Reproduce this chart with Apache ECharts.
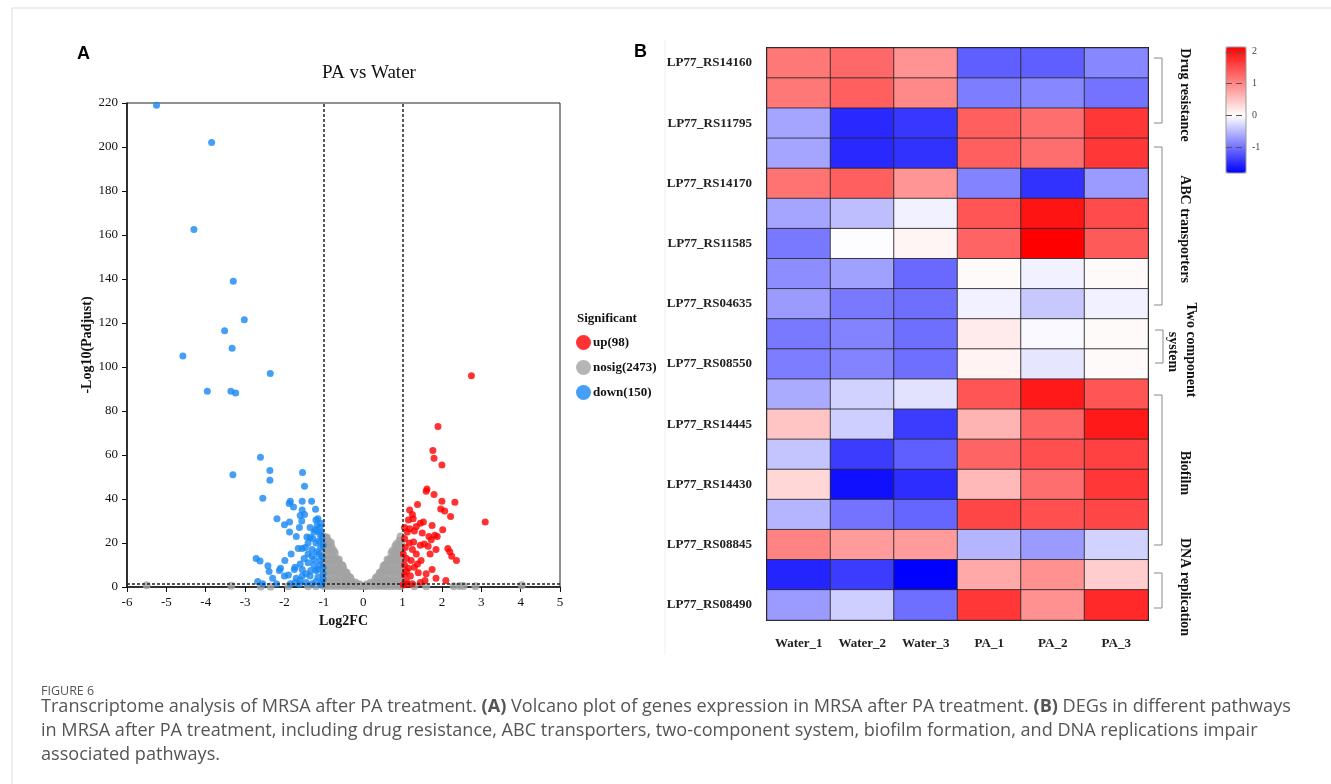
<!DOCTYPE html>
<html>
<head>
<meta charset="utf-8">
<script src="https://cdn.jsdelivr.net/npm/echarts@6/dist/echarts.min.js"></script>
<style>
  html, body { margin: 0; padding: 0; background: #fff; }
  #main { width: 1331px; height: 784px; }
</style>
</head>
<body>
<div id="main"></div>
<script>
// ---- panel A: volcano plot, [log2FC, -log10(padj)] ----
var upPoints = [
  [2.75, 96], [1.9, 73], [1.77, 62], [1.8, 58.5], [2.0, 55.5], [1.62, 44.5], [1.6, 43.5],
  [1.8, 42], [2.33, 38.5], [2.0, 39], [1.38, 37.5], [3.1, 29.5], [1.18, 35], [1.25, 33],
  [1.97, 35.5], [2.07, 34.5], [2.22, 32], [1.15, 30.5], [1.27, 31], [1.45, 29], [1.53, 29.5],
  [1.75, 28], [1.05, 27], [1.18, 26.5], [1.12, 25], [1.3, 25.5], [1.35, 27.5], [2.02, 26],
  [1.67, 23], [1.82, 23.5], [1.88, 23], [1.73, 21.5], [1.05, 22], [1.17, 20], [1.55, 19.5],
  [1.45, 19], [1.65, 18.5], [1.85, 17], [2.15, 17.5], [2.2, 16], [2.25, 14], [2.37, 12],
  [1.7, 15], [1.07, 18], [1.25, 17], [1.35, 15], [1.1, 13], [1.22, 12], [1.47, 12],
  [1.38, 10.5], [1.05, 10], [1.15, 8.5], [1.3, 9], [1.75, 8], [1.05, 5.5], [1.2, 5],
  [1.4, 6.5], [1.57, 3], [1.85, 4], [2.1, 3], [1.1, 2.5], [1.25, 1.5], [1.45, 2],
  [1.02, 1], [1.12, 1.2], [1.02, 15], [1.1, 7], [1.28, 20.5], [1.6, 6], [1.5, 24.5]
];
var downPoints = [
  [-5.25, 219], [-3.85, 202], [-4.3, 162.5], [-3.3, 139], [-3.02, 121.5], [-3.52, 116.5],
  [-3.33, 108.5], [-4.58, 105], [-2.36, 97], [-3.96, 89], [-3.36, 89], [-3.24, 88.2],
  [-2.61, 59], [-2.37, 53], [-2.37, 48.5], [-3.31, 51], [-1.54, 52], [-1.49, 45.8],
  [-2.55, 40.3], [-1.85, 39], [-1.88, 38], [-1.55, 39], [-1.31, 39], [-1.21, 35.3],
  [-1.77, 36.4], [-1.55, 35], [-1.49, 33], [-1.6, 32.5], [-1.56, 30], [-2.19, 31],
  [-1.87, 29.5], [-1.2, 30.5], [-1.17, 28], [-2.0, 28.3], [-1.87, 25], [-1.62, 27],
  [-1.7, 23], [-1.43, 22.7], [-1.35, 22.5], [-1.25, 25], [-1.1, 27], [-1.1, 24],
  [-1.2, 20], [-1.08, 18], [-1.3, 17], [-1.55, 17.5], [-1.65, 17.5], [-1.47, 18],
  [-1.83, 15], [-1.13, 15], [-1.25, 12.5], [-1.5, 13], [-1.6, 10.5], [-1.73, 9],
  [-1.99, 12], [-1.55, 8], [-1.4, 11], [-1.1, 10], [-1.2, 7.5], [-1.35, 5], [-1.15, 4.5],
  [-1.02, 6], [-1.05, 2], [-1.45, 2], [-1.55, 5], [-1.7, 4], [-2.0, 5], [-2.3, 4],
  [-2.39, 7], [-2.42, 9.7], [-2.1, 8.5], [-2.13, 7.5], [-2.62, 11.8], [-2.72, 13],
  [-2.68, 2.5], [-2.55, 1.5], [-2.2, 1.5], [-1.85, 1.5], [-1.73, 2], [-1.3, 1.5],
  [-1.05, 22], [-1.08, 25], [-1.02, 19], [-1.12, 21], [-1.18, 16], [-1.05, 14],
  [-1.1, 12], [-1.02, 9], [-1.15, 8], [-1.25, 10], [-1.3, 14], [-1.22, 26], [-1.15, 31],
  [-1.07, 29], [-1.02, 3.5], [-1.08, 1], [-1.2, 2.5], [-1.35, 27], [-1.4, 20], [-1.4, 15],
  [-1.28, 22], [-1.33, 7.5], [-1.45, 6], [-1.6, 3], [-1.62, 1.2], [-1.75, 8], [-1.9, 5.5]
];
var nosigPoints = [
  [-1.0, 0.5], [-1.0, 3], [-1.0, 5.5], [-1.0, 8], [-1.0, 10.5], [-1.0, 13], [-1.0, 15.5], [-1.0, 18], [-1.0, 20.5], [-1.0, 23],
  [-0.95, 2], [-0.95, 7], [-0.95, 12], [-0.95, 17], [-0.95, 22],
  [-0.9, 0.5], [-0.9, 3], [-0.9, 5.5], [-0.9, 8], [-0.9, 10.5], [-0.9, 13], [-0.9, 15.5], [-0.9, 18], [-0.9, 20.5], [-0.92, 22.5],
  [-0.85, 2], [-0.85, 7], [-0.85, 12], [-0.85, 17], [-0.85, 20.5],
  [-0.8, 0.5], [-0.8, 3], [-0.8, 5.5], [-0.8, 8], [-0.8, 10.5], [-0.8, 13], [-0.8, 15.5], [-0.8, 18], [-0.82, 20],
  [-0.75, 2], [-0.75, 7], [-0.75, 12], [-0.75, 16.5],
  [-0.7, 0.5], [-0.7, 3], [-0.7, 5.5], [-0.7, 8], [-0.7, 10.5], [-0.7, 13], [-0.72, 15.5],
  [-0.65, 2], [-0.65, 7], [-0.65, 12],
  [-0.6, 0.5], [-0.6, 3], [-0.6, 5.5], [-0.6, 8], [-0.6, 10.5], [-0.62, 12.5],
  [-0.55, 2], [-0.55, 7], [-0.55, 10],
  [-0.5, 0.5], [-0.5, 3], [-0.5, 5.5], [-0.5, 8], [-0.52, 9.5],
  [-0.45, 2], [-0.45, 6.5],
  [-0.4, 0.5], [-0.4, 3], [-0.4, 5], [-0.42, 6.5],
  [-0.35, 2], [-0.35, 4.5],
  [-0.3, 0.5], [-0.3, 2.5], [-0.32, 4],
  [-0.25, 1.5], [-0.2, 0.5], [-0.2, 2], [-0.15, 1], [-0.1, 0.5], [-0.1, 1.2], [-0.05, 0.6], [0, 0.5],
  [0.05, 0.6], [0.1, 0.5], [0.1, 1.2], [0.15, 1], [0.2, 0.5], [0.2, 2], [0.25, 1.5],
  [0.3, 0.5], [0.3, 2.5], [0.32, 4], [0.35, 2], [0.35, 4.5],
  [0.4, 0.5], [0.4, 3], [0.4, 5], [0.42, 6.5], [0.45, 2], [0.45, 6.5],
  [0.5, 0.5], [0.5, 3], [0.5, 5.5], [0.5, 8], [0.52, 9.5], [0.55, 2], [0.55, 7], [0.55, 10],
  [0.6, 0.5], [0.6, 3], [0.6, 5.5], [0.6, 8], [0.6, 10.5], [0.62, 12.5], [0.65, 2], [0.65, 7], [0.65, 12],
  [0.7, 0.5], [0.7, 3], [0.7, 5.5], [0.7, 8], [0.7, 10.5], [0.7, 13], [0.72, 15.5], [0.75, 2], [0.75, 7], [0.75, 12], [0.75, 16.5],
  [0.8, 0.5], [0.8, 3], [0.8, 5.5], [0.8, 8], [0.8, 10.5], [0.8, 13], [0.8, 15.5], [0.82, 18.5],
  [0.85, 2], [0.85, 7], [0.85, 12], [0.85, 17], [0.85, 19.5],
  [0.9, 0.5], [0.9, 3], [0.9, 5.5], [0.9, 8], [0.9, 10.5], [0.9, 13], [0.9, 15.5], [0.9, 18], [0.92, 21],
  [0.97, 0.5], [0.97, 3], [0.97, 5.5], [0.97, 8], [0.97, 10.5], [0.97, 13], [0.97, 15.5], [0.97, 18], [0.97, 20.5], [0.95, 23],
  [-5.5, 0.8], [-3.35, 0.6], [-2.6, 0.2], [-2.35, 0.2], [-1.9, 0.3], [-1.4, 0.3], [-1.2, 0.3],
  [1.3, 0.3], [1.6, 0.3], [2.3, 0.3], [2.45, 0.4], [2.55, 0.5], [2.85, 0.3], [4.03, 0.8]
];
var legendNames = ['up(98)', 'nosig(2473)', 'down(150)'];

// ---- panel B: heatmap, z-scores ----
var sampleNames = ['Water_1', 'Water_2', 'Water_3', 'PA_1', 'PA_2', 'PA_3'];
var rowLabels = [
  'LP77_RS14160', '', 'LP77_RS11795', '', 'LP77_RS14170', '', 'LP77_RS11585', '',
  'LP77_RS04635', '', 'LP77_RS08550', '', 'LP77_RS14445', '', 'LP77_RS14430', '',
  'LP77_RS08845', '', 'LP77_RS08490'
];
var heatValues = [
  [1.14, 1.27, 0.92, -1.13, -1.13, -0.85],
  [1.14, 1.35, 1.0, -0.92, -0.85, -0.99],
  [-0.64, -1.52, -1.41, 1.35, 1.22, 1.69],
  [-0.64, -1.52, -1.45, 1.35, 1.22, 1.69],
  [1.18, 1.35, 0.89, -0.88, -1.45, -0.71],
  [-0.64, -0.46, -0.1, 1.43, 1.98, 1.52],
  [-0.95, -0.02, 0.08, 1.31, 2.15, 1.39],
  [-0.81, -0.67, -1.06, 0.04, -0.1, 0.04],
  [-0.71, -0.95, -1.02, -0.1, -0.39, -0.1],
  [-0.95, -0.88, -1.02, 0.17, -0.05, 0.04],
  [-0.92, -0.88, -1.02, 0.1, -0.18, 0.04],
  [-0.6, -0.32, -0.21, 1.43, 1.94, 1.43],
  [0.5, -0.35, -1.38, 0.63, 1.31, 1.94],
  [-0.42, -1.38, -1.13, 1.31, 1.48, 1.6],
  [0.34, -1.69, -1.48, 0.59, 1.22, 1.69],
  [-0.53, -0.99, -1.09, 1.56, 1.48, 1.56],
  [1.05, 0.84, 0.84, -0.53, -0.71, -0.32],
  [-1.55, -1.38, -1.8, 0.72, 0.93, 0.42],
  [-0.71, -0.35, -1.02, 1.69, 0.93, 1.81]
];
var colorbarTicks = [-1, 0, 1, 2];
var pathwayGroups = [
  { name: 'Drug resistance', from: 58, to: 123, textY: 95 },
  { name: 'ABC transporters', from: 147, to: 305, textY: 229 },
  { name: 'Biofilm', from: 395, to: 545, textY: 473 },
  { name: 'DNA replication', from: 573, to: 608, textY: 587 }
];

var SERIF = '"Liberation Serif", "Times New Roman", serif';
var CAPTION = '18.1px "Open Sans", sans-serif';
var heatData = [];
heatValues.forEach(function (row, r) {
  row.forEach(function (v, c) { heatData.push([c, r, v]); });
});
var everyOther = function (i) { return i % 2 === 0; };

var graphics = [
  { type: 'rect', shape: { x: 12, y: 8, width: 1340, height: 800 }, style: { fill: 'none', stroke: '#dcdcdc', lineWidth: 1 }, silent: true },
  { type: 'line', shape: { x1: 665, y1: 40, x2: 665, y2: 655 }, style: { stroke: '#f0f0f0', lineWidth: 1 }, silent: true },
  { type: 'text', x: 77, y: 45, style: { text: 'A', font: 'bold 18px "Liberation Sans", Arial, sans-serif', fill: '#000' } },
  { type: 'text', x: 634, y: 43, style: { text: 'B', font: 'bold 18px "Liberation Sans", Arial, sans-serif', fill: '#000' } },
  { type: 'text', x: 577, y: 312, style: { text: 'Significant', font: 'bold 13px ' + SERIF, fill: '#111' } },
  { type: 'text', x: 41, y: 685, style: { text: 'FIGURE 6', font: '12.5px "Open Sans", sans-serif', fill: '#555' } },
  { type: 'text', x: 41, y: 698, style: { text: 'Transcriptome analysis of MRSA after PA treatment. {b|(A)} Volcano plot of genes expression in MRSA after PA treatment. {b|(B)} DEGs in different pathways',
      font: CAPTION, fill: '#555', rich: { b: { fontWeight: 'bold', fontSize: 18.1, fontFamily: '"Open Sans", sans-serif', fill: '#555' } } } },
  { type: 'text', x: 41, y: 722, style: { text: 'in MRSA after PA treatment, including drug resistance, ABC transporters, two-component system, biofilm formation, and DNA replications impair', font: CAPTION, fill: '#555' } },
  { type: 'text', x: 41, y: 746, style: { text: 'associated pathways.', font: CAPTION, fill: '#555' } },
  // two component system bracket and label
  { type: 'polyline', shape: { points: [[1155, 330], [1163, 330], [1163, 363], [1155, 363]] }, style: { fill: 'none', stroke: '#888', lineWidth: 1 } },
  { type: 'text', x: 1191, y: 350, rotation: -Math.PI / 2, style: { text: 'Two component', font: 'bold 14px ' + SERIF, fill: '#111', textAlign: 'center', textVerticalAlign: 'middle' } },
  { type: 'text', x: 1173, y: 352, rotation: -Math.PI / 2, style: { text: 'system', font: 'bold 14px ' + SERIF, fill: '#111', textAlign: 'center', textVerticalAlign: 'middle' } },
  // colorbar frame
  { type: 'rect', shape: { x: 1226, y: 47, width: 20, height: 126 }, style: { fill: 'none', stroke: '#999', lineWidth: 1 }, z: 10 }
];
pathwayGroups.forEach(function (g) {
  graphics.push({ type: 'polyline', shape: { points: [[1154, g.from], [1162, g.from], [1162, g.to], [1154, g.to]] },
    style: { fill: 'none', stroke: '#888', lineWidth: 1 } });
  graphics.push({ type: 'text', x: 1185, y: g.textY, rotation: -Math.PI / 2,
    style: { text: g.name, font: 'bold 14px ' + SERIF, fill: '#111', textAlign: 'center', textVerticalAlign: 'middle' } });
});

var chart = echarts.init(document.getElementById('main'), null, { renderer: 'canvas' });
var option = {
  animation: false,
  backgroundColor: '#fff',
  title: {
    text: 'PA vs Water', left: 364, top: 59, textAlign: 'center',
    textStyle: { fontFamily: SERIF, fontWeight: 'normal', fontSize: 19, color: '#111' }
  },
  legend: {
    data: legendNames, orient: 'vertical', left: 571, top: 330, itemGap: 10,
    icon: 'circle', itemWidth: 15, itemHeight: 15,
    textStyle: { fontFamily: SERIF, fontWeight: 'bold', fontSize: 13, color: '#111', padding: [0, 0, 0, -3] }
  },
  grid: [
    { left: 127, top: 103, width: 433, height: 484, show: true, borderColor: '#222', borderWidth: 1 },
    { left: 767, top: 48, width: 381, height: 572, show: true, borderColor: '#111', borderWidth: 2 },
    { left: 1226, top: 47, width: 20, height: 126 }
  ],
  xAxis: [
    { gridIndex: 0, type: 'value', min: -6, max: 5, interval: 1,
      name: 'Log2FC', nameLocation: 'middle', nameGap: 26,
      nameTextStyle: { fontFamily: SERIF, fontWeight: 'bold', fontSize: 14, color: '#111' },
      axisLine: { onZero: false, lineStyle: { color: '#111', width: 1.5 } },
      axisTick: { length: 5, lineStyle: { color: '#111' } },
      axisLabel: { fontFamily: SERIF, fontSize: 13, color: '#111', margin: 9 },
      splitLine: { show: false } },
    { gridIndex: 1, type: 'category', data: sampleNames, position: 'bottom',
      axisLine: { lineStyle: { color: '#111', width: 2 } },
      axisTick: { alignWithLabel: true, length: 8, lineStyle: { color: '#111', width: 2 } },
      axisLabel: { fontFamily: SERIF, fontWeight: 'bold', fontSize: 13, color: '#222', margin: 17 } },
    { gridIndex: 2, type: 'value', show: false, min: 0, max: 1 }
  ],
  yAxis: [
    { gridIndex: 0, type: 'value', min: 0, max: 220, interval: 20,
      name: '-Log10(Padjust)', nameLocation: 'middle', nameGap: 32, nameRotate: 90,
      nameTextStyle: { fontFamily: SERIF, fontWeight: 'bold', fontSize: 14, color: '#111' },
      axisLine: { show: true, onZero: false, lineStyle: { color: '#111', width: 1.5 } },
      axisTick: { show: true, length: 5, lineStyle: { color: '#111' } },
      axisLabel: { fontFamily: SERIF, fontSize: 13, color: '#111', margin: 9 },
      splitLine: { show: false } },
    { gridIndex: 1, type: 'category', data: rowLabels, inverse: true,
      axisLine: { lineStyle: { color: '#111', width: 2 } },
      axisTick: { alignWithLabel: true, interval: everyOther, length: 8, lineStyle: { color: '#111', width: 2 } },
      axisLabel: { interval: everyOther, fontFamily: SERIF, fontWeight: 'bold', fontSize: 13, color: '#222', margin: 15 } },
    // colorbar dashes (left axis, ticks pointing into the bar)
    { gridIndex: 2, type: 'value', min: -1.8, max: 2.15, position: 'left', z: 20,
      axisLine: { show: false },
      axisTick: { show: true, inside: true, length: 20, customValues: colorbarTicks,
        lineStyle: { color: '#555', type: [6, 4], width: 1.2 } },
      axisLabel: { show: false },
      splitLine: { show: false } },
    // colorbar labels
    { gridIndex: 2, type: 'value', min: -1.8, max: 2.15, position: 'right', z: 20,
      axisLine: { show: false }, axisTick: { show: false },
      axisLabel: { customValues: colorbarTicks, fontFamily: SERIF, fontSize: 10, color: '#444', margin: 6 },
      splitLine: { show: false } }
  ],
  visualMap: {
    type: 'continuous', seriesIndex: 3, min: -1.8, max: 2.15,
    left: 1226, top: 47, padding: 0, itemWidth: 20, itemHeight: 126,
    calculable: false, text: null, showLabel: false, z: 1,
    inRange: { color: ['#0000ff', '#3333ff', '#6666ff', '#9999ff', '#ccccff', '#ffffff',
      '#ffd5d5', '#ffaaaa', '#ff8080', '#ff5555', '#ff2b2b', '#ff0000'] }
  },
  graphic: graphics,
  series: [
    { name: 'nosig(2473)', type: 'scatter', xAxisIndex: 0, yAxisIndex: 0, data: nosigPoints,
      symbolSize: 8, itemStyle: { color: '#a3a3a3' }, z: 2,
      markLine: { silent: true, symbol: 'none', label: { show: false },
        lineStyle: { color: '#222', type: [3, 2], width: 1.5 },
        data: [{ xAxis: -1 }, { xAxis: 1 }, { yAxis: 1.3 }] } },
    { name: 'up(98)', type: 'scatter', xAxisIndex: 0, yAxisIndex: 0, data: upPoints,
      symbolSize: 7, itemStyle: { color: '#ff0000' }, z: 3 },
    { name: 'down(150)', type: 'scatter', xAxisIndex: 0, yAxisIndex: 0, data: downPoints,
      symbolSize: 7, itemStyle: { color: '#1787f5' }, z: 3 },
    { name: 'heat', type: 'heatmap', xAxisIndex: 1, yAxisIndex: 1, data: heatData,
      itemStyle: { borderColor: 'rgba(40,40,40,0.85)', borderWidth: 1 } }
  ]
};
chart.setOption(option);
</script>
</body>
</html>
